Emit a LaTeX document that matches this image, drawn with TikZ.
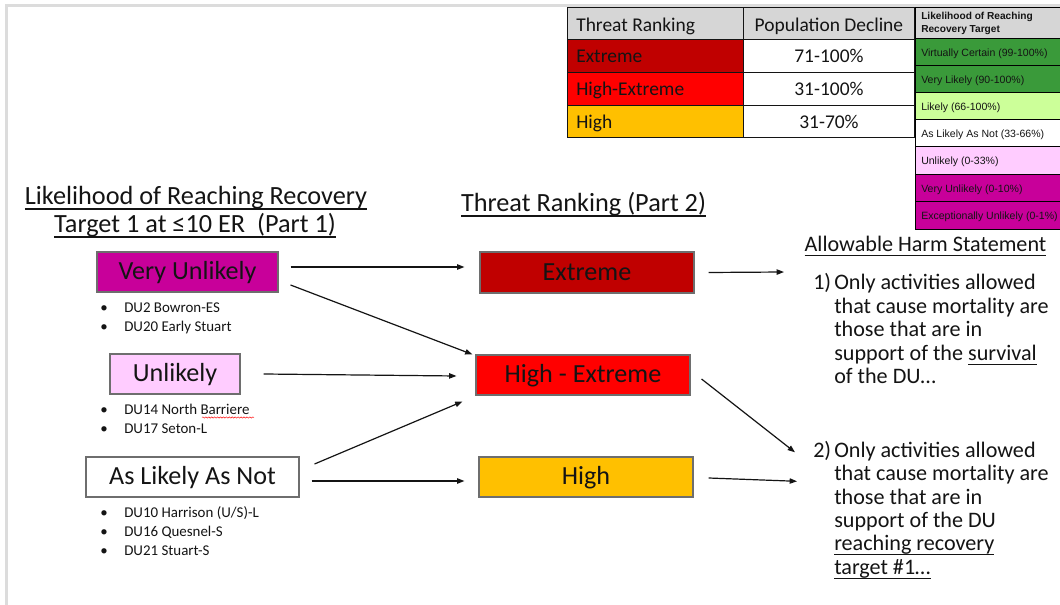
\documentclass[tikz,border=0pt]{standalone}
\usepackage{fontspec}
\setmainfont{Carlito}
\newfontfamily\arialf{Liberation Sans}
\newcommand{\myul}[1]{\leavevmode\setbox0\hbox{#1}\rlap{\rule[-3.4pt]{\wd0}{0.9pt}}\box0}
\usetikzlibrary{arrows.meta,decorations.pathmorphing}
\definecolor{vumag}{HTML}{C8009A}
\definecolor{unpink}{HTML}{FFCCFF}
\definecolor{extred}{HTML}{C00000}
\definecolor{hered}{HTML}{FF0000}
\definecolor{highor}{HTML}{FFC000}
\definecolor{dgreen}{HTML}{3A9A3A}
\definecolor{lgreen}{HTML}{CCFF99}
\definecolor{hdrgray}{HTML}{D6D6D6}
\definecolor{edgegray}{HTML}{DCDCDC}
\definecolor{boxline}{HTML}{6E6E6E}
\definecolor{txt}{HTML}{141414}
\begin{document}
\begin{tikzpicture}[x=0.75pt,y=-0.75pt,
  wh/.style 2 args={minimum width=#1*0.75pt, minimum height=#2*0.75pt},
  box/.style={draw=boxline, line width=0.8pt, inner sep=0pt, text=txt,
    text height=11.6pt, text depth=0pt,
    font=\fontsize{19.6}{23}\selectfont},
  arr/.style={-{Triangle[length=5.5pt,width=4pt]}, line width=0.9pt, draw=txt},
  head/.style={anchor=base, inner sep=0pt, text=txt, font=\fontsize{19.7}{23}\selectfont},
  stmt/.style={anchor=base west, inner sep=0pt, text=txt, font=\fontsize{16.6}{20}\selectfont},
  bul/.style={anchor=base west, inner sep=0pt, text=txt, font=\fontsize{11.2}{14}\selectfont},
  cell/.style={draw=txt, line width=0.7pt, anchor=north west, inner sep=0pt},
  ctxt/.style={inner sep=0pt, text=txt, font=\fontsize{14.6}{17}\selectfont},
  rcell/.style={draw=black, line width=0.9pt, anchor=north west, inner sep=0pt},
  rtxt/.style={anchor=base west, inner sep=0pt, text=txt, font=\arialf\fontsize{7.9}{9}\selectfont},
]
\useasboundingbox (0,0) rectangle (1060,605);
\clip (0,0) rectangle (1060,605);
\fill[white] (0,0) rectangle (1060,605);
\draw[edgegray, line width=1.6pt] (6.5,606) -- (6.5,5.5) -- (1062,5.5);

% ---- left table ----
\node[cell, wh={176}{32}, fill=hdrgray] (c11) at (567,7) {};
\node[cell, wh={171}{32}, fill=hdrgray] (c12) at (743,7) {};
\node[cell, wh={176}{33}, fill=extred] (c21) at (567,39) {};
\node[cell, wh={171}{33}, fill=white] (c22) at (743,39) {};
\node[cell, wh={176}{33}, fill=hered] (c31) at (567,72) {};
\node[cell, wh={171}{33}, fill=white] (c32) at (743,72) {};
\node[cell, wh={176}{32}, fill=highor] (c41) at (567,105) {};
\node[cell, wh={171}{32}, fill=white] (c42) at (743,105) {};
\node[ctxt, anchor=base west] (t11) at ([shift={(9,8)}]c11.west) {Threat Ranking};
\node[ctxt, anchor=base] (t12) at ([shift={(0,8)}]c12.center) {Population Decline};
\node[ctxt, anchor=base west] (t21) at ([shift={(9,7)}]c21.west) {Extreme};
\node[ctxt, anchor=base] (t22) at ([shift={(0,7)}]c22.center) {71-100\%};
\node[ctxt, anchor=base west] (t31) at ([shift={(9,7)}]c31.west) {High-Extreme};
\node[ctxt, anchor=base] (t32) at ([shift={(0,7)}]c32.center) {31-100\%};
\node[ctxt, anchor=base west] (t41) at ([shift={(9,7)}]c41.west) {High};
\node[ctxt, anchor=base] (t42) at ([shift={(0,7)}]c42.center) {31-70\%};

% ---- right table ----
\node[rcell, wh={160}{31}, fill=hdrgray] (r0) at (915,7) {};
\node[rcell, wh={160}{27}, fill=dgreen] (r1) at (915,38) {};
\node[rcell, wh={160}{27}, fill=dgreen] (r2) at (915,65) {};
\node[rcell, wh={160}{27}, fill=lgreen] (r3) at (915,92) {};
\node[rcell, wh={160}{27}, fill=white] (r4) at (915,119) {};
\node[rcell, wh={160}{28}, fill=unpink] (r5) at (915,146) {};
\node[rcell, wh={160}{27}, fill=vumag] (r6) at (915,174) {};
\node[rcell, wh={160}{28}, fill=vumag] (r7) at (915,201) {};
\node[rtxt, font=\arialf\bfseries\fontsize{7.6}{9}\selectfont] (r0a) at (921,20) {Likelihood of Reaching};
\node[rtxt, font=\arialf\bfseries\fontsize{7.6}{9}\selectfont] (r0b) at (921,32.5) {Recovery Target};
\node[rtxt] (r1t) at ([shift={(6,4)}]r1.west) {Virtually Certain (99-100\%)};
\node[rtxt] (r2t) at ([shift={(6,4)}]r2.west) {Very Likely (90-100\%)};
\node[rtxt] (r3t) at ([shift={(6,4)}]r3.west) {Likely (66-100\%)};
\node[rtxt] (r4t) at ([shift={(6,4)}]r4.west) {As Likely As Not (33-66\%)};
\node[rtxt] (r5t) at ([shift={(6,4)}]r5.west) {Unlikely (0-33\%)};
\node[rtxt] (r6t) at ([shift={(6,4)}]r6.west) {Very Unlikely (0-10\%)};
\node[rtxt] (r7t) at ([shift={(6,4)}]r7.west) {Exceptionally Unlikely (0-1\%)};

% ---- headings ----
\node[head] (h1a) at (196,205) {\myul{Likelihood of Reaching Recovery}};
\node[head] (h1b) at (195,233) {\myul{Target 1 at ≤10 ER\ \ (Part 1)}};
\node[head] (h2) at (583.5,212) {\myul{Threat Ranking (Part 2)}};
\node[stmt, anchor=base] (h3) at (925.5,251.5) {\myul{Allowable Harm Statement}};

% ---- part 1 boxes ----
\node[box, wh={181}{40}, fill=vumag] (vu) at (187.5,272) {Very Unlikely};
\node[box, wh={130}{40}, fill=unpink] (un) at (175,374) {Unlikely};
\node[box, wh={213}{40}, fill=white] (alan) at (192.5,477) {As Likely As Not};

\node[bul] (b1) at (100,313) {•};
\node[bul] (d1) at (124,313) {DU2 Bowron-ES};
\node[bul] (b2) at (100,332) {•};
\node[bul] (d2) at (124,332) {DU20 Early Stuart};
\node[bul] (b3) at (100,414.3) {•};
\node[bul] (d3) at (124,414.3) {DU14 North Barriere};
\node[bul] (b4) at (100,433.3) {•};
\node[bul] (d4) at (124,433.3) {DU17 Seton-L};
\node[bul] (b5) at (100,517.3) {•};
\node[bul] (d5) at (124,517.3) {DU10 Harrison (U/S)-L};
\node[bul] (b6) at (100,536.3) {•};
\node[bul] (d6) at (124,536.3) {DU16 Quesnel-S};
\node[bul] (b7) at (100,555.3) {•};
\node[bul] (d7) at (124,555.3) {DU21 Stuart-S};
\draw[red, line width=0.35pt, decorate, decoration={snake, amplitude=0.5pt, segment length=2.2pt}] (202,417.5) -- (254,417.5);

% ---- part 2 boxes ----
\node[box, wh={214}{41}, fill=extred] (ext) at (587,272.5) {Extreme};
\node[box, wh={214}{40}, fill=hered] (he) at (583,375) {High - Extreme};
\node[box, wh={214}{40}, fill=highor] (high) at (586,477) {High};

% ---- statements ----
\node[stmt] (n1) at (813,290) {1)};
\node[stmt] (s11) at (834,290) {Only activities allowed};
\node[stmt] (s12) at (834,313.4) {that cause mortality are};
\node[stmt] (s13) at (834,336.8) {those that are in};
\node[stmt] (s14) at (834,360.2) {support of the \myul{survival}};
\node[stmt] (s15) at (834,383.6) {of the DU…};
\node[stmt] (n2) at (813,457.3) {2)};
\node[stmt] (s21) at (834,457.3) {Only activities allowed};
\node[stmt] (s22) at (834,480.7) {that cause mortality are};
\node[stmt] (s23) at (834,504.1) {those that are in};
\node[stmt] (s24) at (834,527.5) {support of the DU};
\node[stmt] (s25) at (834,550.9) {\myul{reaching recovery}};
\node[stmt] (s26) at (834,574.3) {\myul{target \#1…}};

\coordinate (e1) at ([shift={(-29,-18)}]n1.base west);
\coordinate (e2) at ([shift={(-18,-5)}]n2.base west);
\coordinate (e3) at ([shift={(-16,24)}]n2.base west);

% ---- connectors ----
\draw[arr] ([shift={(12,-5)}]vu.east) -- ([shift={(-15,-5.5)}]ext.west);
\draw[arr] ([shift={(12,13)}]vu.east) -- ([shift={(-3,0)}]he.north west);
\draw[arr] ([shift={(23,0)}]un.east) -- ([shift={(-19,1)}]he.west);
\draw[arr] ([shift={(15,-13)}]alan.east) -- ([shift={(-13,6)}]he.south west);
\draw[arr] ([shift={(12,4)}]alan.east) -- ([shift={(-14,4)}]high.west);
\draw[arr] ([shift={(14,0)}]ext.east) -- (e1);
\draw[arr] ([shift={(11,4)}]he.east) -- (e2);
\draw[arr] ([shift={(15,1)}]high.east) -- (e3);
\end{tikzpicture}
\end{document}
